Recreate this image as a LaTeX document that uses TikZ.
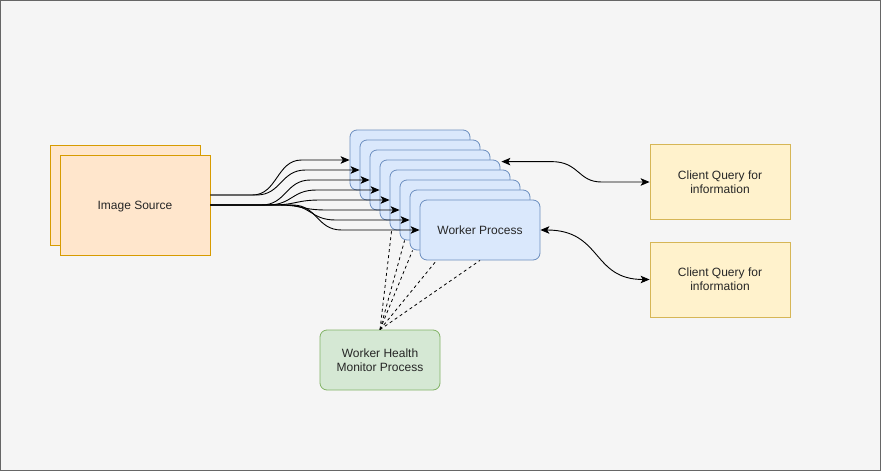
\documentclass[tikz,border=0pt]{standalone}
\usepackage{fontspec}
\setmainfont{Liberation Sans}
\usetikzlibrary{calc,arrows.meta}
\definecolor{bgc}{HTML}{F5F5F5}
\definecolor{bordc}{HTML}{666666}
\definecolor{srcfill}{HTML}{FFE6CC}
\definecolor{srcline}{HTML}{D79B00}
\definecolor{wfill}{HTML}{DAE8FC}
\definecolor{wline}{HTML}{6C8EBF}
\definecolor{mfill}{HTML}{D5E8D4}
\definecolor{mline}{HTML}{82B366}
\definecolor{cfill}{HTML}{FFF2CC}
\definecolor{cline}{HTML}{D6B656}
\tikzset{
  srcbox/.style={draw=srcline, fill=srcfill, minimum width=150pt, minimum height=100pt, inner sep=0pt, line width=0.8pt},
  workbox/.style={draw=wline, fill=wfill, rounded corners=7pt, minimum width=120pt, minimum height=60pt, inner sep=0pt, line width=0.8pt},
  monbox/.style={draw=mline, fill=mfill, rounded corners=7pt, minimum width=120pt, minimum height=60pt, inner sep=0pt, line width=0.8pt, align=center},
  clibox/.style={draw=cline, fill=cfill, minimum width=140pt, minimum height=75pt, inner sep=0pt, line width=0.8pt, align=center},
  lbl/.style={font=\fontsize{12pt}{14pt}\selectfont, text=black!85},
  tip/.style={Stealth[length=9pt,width=7.5pt,inset=2.2pt]},
  flow/.style={draw=black, line width=0.9pt, -{Stealth[length=9pt,width=7.5pt,inset=2.2pt]}},
  biflow/.style={draw=black, line width=0.9pt, {Stealth[length=9pt,width=7.5pt,inset=2.2pt]}-{Stealth[length=9pt,width=7.5pt,inset=2.2pt]}},
  dashline/.style={draw=black, line width=0.8pt, dash pattern=on 3pt off 3pt}
}
\begin{document}
\begin{tikzpicture}[x=1pt,y=-1pt]
\useasboundingbox (0,0) rectangle (881,471);
\fill[bgc] (0,0) rectangle (881,471);
\draw[bordc, line width=0.8pt] (0.5,0.5) rectangle (880.5,470.5);

% image source
\node[srcbox] (isb) at (125,195) {};
\node[srcbox, lbl, text depth=0pt] (is) at (135,205) {Image Source};
\coordinate (s1) at ($(is.east)+(0,-10)$);
\coordinate (s2) at (is.east);

% worker stack
\foreach \i in {0,...,6} {
  \node[workbox] (w\i) at ({410+10*\i},{160+10*\i}) {};
}
\node[workbox, lbl] (w7) at (480,230) {Worker Process};

% monitor
\node[monbox, lbl] (hm) at (380,360) {Worker Health\\Monitor Process};

% clients
\node[clibox, lbl] (c1) at (720,182) {Client Query for\\information};
\node[clibox, lbl] (c2) at (720,279.5) {Client Query for\\information};

% fan of arrows from the image source
\foreach \i/\s/\xm in {0/s1/277,1/s1/281,2/s2/286,3/s2/292,4/s2/296,5/s2/302,6/s2/311,7/s2/317} {
  \pgfmathsetmacro\wx{350+10*\i}
  \pgfmathsetmacro\aa{\xm-25-210}
  \pgfmathsetmacro\ab{\xm-210}
  \pgfmathsetmacro\ba{\xm-\wx}
  \pgfmathsetmacro\bb{\xm+25-\wx}
  \draw[flow] (\s) -- ($(\s)+(\aa,0)$) .. controls ($(\s)+(\ab,0)$) and ($(w\i.west)+(\ba,0)$) .. ($(w\i.west)+(\bb,0)$) -- (w\i.west);
}

% dashed monitor lines
\draw[dashline] (hm.north) -- ($(w4.south west)+(2,0)$);
\draw[dashline] (hm.north) -- ($(w5.south west)+(5,0)$);
\draw[dashline] (hm.north) -- ($(w6.south west)+(3,0)$);
\draw[dashline] (hm.north) -- ($(w7.south west)+(17,0)$);
\draw[dashline] (hm.north) -- (w7.south);

% client query arrows
\coordinate (q1) at ($(w3.north east)+(1,2)$);
\draw[biflow] (q1) -- ($(q1)+(50,0)$) .. controls ($(q1)+(78,0)$) and ($(c1.west)+(-72,0)$) .. ($(c1.west)+(-48,0)$) -- (c1.west);
\draw[biflow] (w7.east) .. controls ($(w7.east)+(62,0)$) and ($(c2.west)+(-58,0)$) .. (c2.west);
\end{tikzpicture}
\end{document}
